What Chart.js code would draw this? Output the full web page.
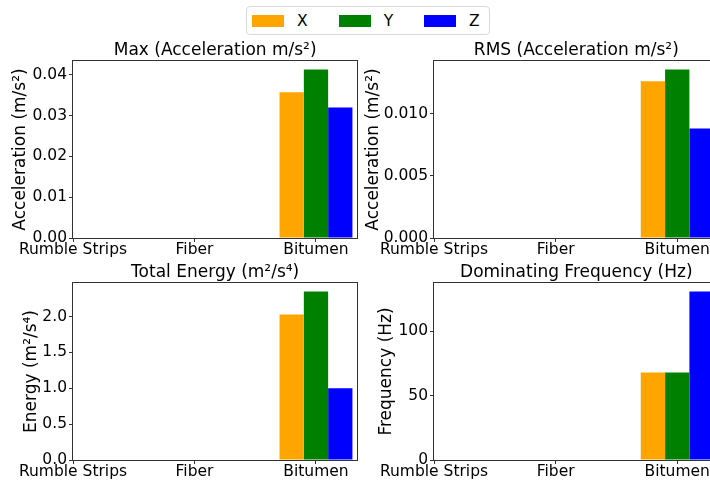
<!DOCTYPE html>
<html>
<head>
<meta charset="utf-8">
<script src="https://cdn.jsdelivr.net/npm/chart.js@4.4.1/dist/chart.umd.min.js"></script>
<style>
  html, body { margin: 0; padding: 0; background: #fff; }
  body { position: relative; width: 710px; height: 484px; overflow: hidden; font-family: 'DejaVu Sans', sans-serif; }
  canvas { position: absolute; }
  #legend {
    position: absolute; left: 246px; top: 6px; width: 237px; height: 27px;
    border: 1px solid #d9d9d9; border-radius: 4px; background: #fff;
    display: flex; align-items: center; padding-left: 5px; box-sizing: content-box;
  }
  .item { display: flex; align-items: center; margin-right: 31px; }
  .swatch { width: 32px; height: 12px; margin-right: 13px; }
  .item span { font-size: 15.5px; color: #000; }
</style>
</head>
<body>
<div id="legend"></div>
<canvas id="cMax" width="360" height="220" style="left:0;top:40px"></canvas>
<canvas id="cRms" width="362" height="220" style="left:360px;top:40px"></canvas>
<canvas id="cEnergy" width="360" height="220" style="left:0;top:262px"></canvas>
<canvas id="cFreq" width="362" height="220" style="left:360px;top:262px"></canvas>
<script>
// road surfaces and the three vibration axes
const categories = ['Rumble Strips', 'Fiber', 'Bitumen'];
const seriesNames = ['X', 'Y', 'Z'];
const seriesColors = ['orange', 'green', 'blue'];

// peak acceleration (m/s²)
const maxX = [0, 0, 0.0357];
const maxY = [0, 0, 0.0413];
const maxZ = [0, 0, 0.0320];

// RMS acceleration (m/s²)
const rmsX = [0, 0, 0.0126];
const rmsY = [0, 0, 0.01356];
const rmsZ = [0, 0, 0.0088];

// total energy (m²/s⁴)
const energyX = [0, 0, 2.03];
const energyY = [0, 0, 2.35];
const energyZ = [0, 0, 1.0];

// dominating frequency (Hz)
const freqX = [0, 0, 68];
const freqY = [0, 0, 68];
const freqZ = [0, 0, 131];

const FONT = 'DejaVu Sans';
const barWidth = 0.2;
const xMax = 2.34;

// shared legend
const legend = document.getElementById('legend');
seriesNames.forEach((name, k) => {
  const item = document.createElement('div');
  item.className = 'item';
  const sw = document.createElement('div');
  sw.className = 'swatch';
  sw.style.background = seriesColors[k];
  const label = document.createElement('span');
  label.textContent = name;
  item.appendChild(sw);
  item.appendChild(label);
  legend.appendChild(item);
});
legend.lastChild.style.marginRight = '0';

// box around each plot area, like matplotlib spines
const frame = {
  id: 'frame',
  afterDraw(chart) {
    const { ctx, chartArea: a } = chart;
    ctx.save();
    ctx.strokeStyle = '#333';
    ctx.lineWidth = 1;
    ctx.strokeRect(Math.round(a.left) - 0.5, Math.round(a.top) - 0.5,
      Math.round(a.right - a.left) + 1, Math.round(a.bottom - a.top) + 1);
    ctx.restore();
  }
};

function makeChart(id, cfg) {
  const datasets = cfg.series.map((values, k) => ({
    label: seriesNames[k],
    data: categories.map((c, i) => ({ x: i + (k - 1) * barWidth, y: values[i] })),
    backgroundColor: seriesColors[k],
    borderWidth: 0,
    inflateAmount: 0,
    grouped: false,
    categoryPercentage: 1,
    barPercentage: 1
  }));
  const top = Math.max(...cfg.series.flat()) * 1.05;

  return new Chart(document.getElementById(id), {
    type: 'bar',
    data: { datasets },
    plugins: [frame],
    options: {
      responsive: false,
      animation: false,
      devicePixelRatio: 1,
      layout: { padding: { left: 0, right: cfg.padRight, top: 0, bottom: 0 } },
      plugins: {
        legend: { display: false },
        tooltip: { enabled: false },
        title: {
          display: true,
          fullSize: false,
          text: cfg.title,
          color: '#000',
          font: { family: FONT, size: 17, weight: 'normal', lineHeight: 1.2 },
          padding: { top: 0.6, bottom: 0 }
        }
      },
      scales: {
        x: {
          type: 'linear',
          min: 0,
          max: xMax,
          offset: false,
          border: { display: false },
          grid: { offset: false, drawOnChartArea: false, tickLength: 4, tickColor: '#333' },
          afterBuildTicks: (scale) => { scale.ticks = categories.map((c, i) => ({ value: i })); },
          afterFit: (scale) => { scale.height = 22; },
          ticks: {
            callback: (v) => categories[v],
            autoSkip: false,
            maxRotation: 0,
            padding: 0,
            color: '#000',
            font: { family: FONT, size: 15.5, lineHeight: 1 }
          }
        },
        y: {
          min: 0,
          max: top,
          border: { display: false },
          grid: { drawOnChartArea: false, tickLength: 4, tickColor: '#333' },
          afterFit: (scale) => { scale.width = cfg.yWidth; },
          ticks: {
            stepSize: cfg.step,
            includeBounds: false,
            padding: 2,
            color: '#000',
            font: { family: FONT, size: 15.5, lineHeight: 1.2 },
            callback: (v) => v.toFixed(cfg.decimals)
          },
          title: {
            display: true,
            text: cfg.yTitle,
            color: '#000',
            font: { family: FONT, size: 17, lineHeight: 1.2 },
            padding: { top: cfg.yTitlePad, bottom: 0 }
          }
        }
      }
    }
  });
}

makeChart('cMax', {
  title: 'Max (Acceleration m/s²)', yTitle: 'Acceleration (m/s²)',
  series: [maxX, maxY, maxZ], step: 0.01, decimals: 2,
  yWidth: 73, padRight: 2.7, yTitlePad: 10.8
});
makeChart('cRms', {
  title: 'RMS (Acceleration m/s²)', yTitle: 'Acceleration (m/s²)',
  series: [rmsX, rmsY, rmsZ], step: 0.005, decimals: 3,
  yWidth: 74, padRight: 3.4, yTitlePad: 3.8
});
makeChart('cEnergy', {
  title: 'Total Energy (m²/s⁴)', yTitle: 'Energy (m²/s⁴)',
  series: [energyX, energyY, energyZ], step: 0.5, decimals: 1,
  yWidth: 73, padRight: 2.7, yTitlePad: 21.8
});
makeChart('cFreq', {
  title: 'Dominating Frequency (Hz)', yTitle: 'Frequency (Hz)',
  series: [freqX, freqY, freqZ], step: 50, decimals: 0,
  yWidth: 74, padRight: 3.4, yTitlePad: 16.3
});
</script>
</body>
</html>
